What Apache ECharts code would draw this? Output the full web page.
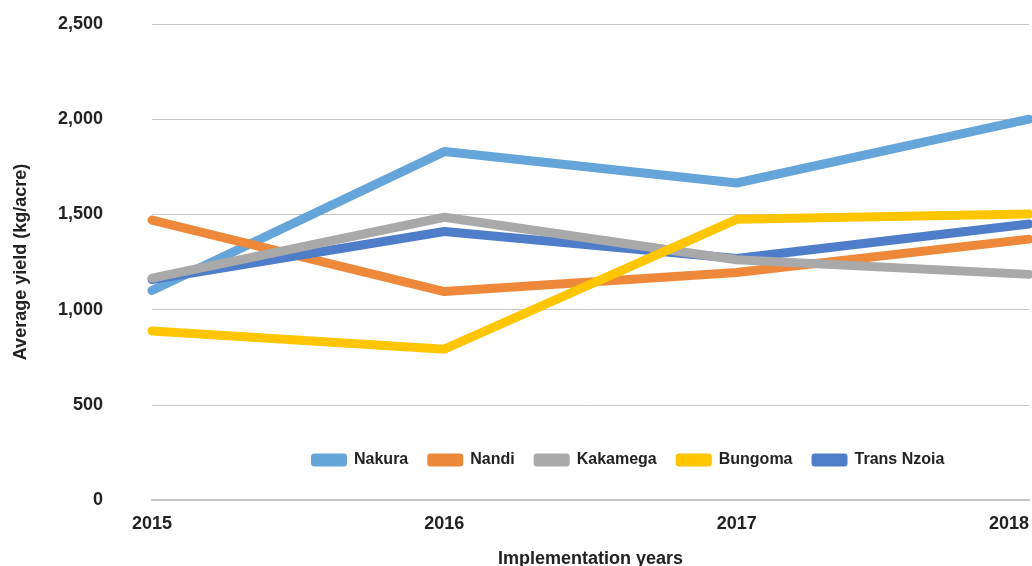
<!DOCTYPE html>
<html>
<head>
<meta charset="utf-8">
<script src="https://cdn.jsdelivr.net/npm/echarts@6/dist/echarts.min.js"></script>
<style>
  html, body { margin: 0; padding: 0; background: #fff; }
  #chart { width: 1032px; height: 566px; }
</style>
</head>
<body>
<div id="chart"></div>
<script>
var years = ['2015', '2016', '2017', '2018'];
var nakura = [1100, 1830, 1665, 2000];
var nandi = [1470, 1095, 1195, 1370];
var kakamega = [1165, 1485, 1262, 1185];
var bungoma = [888, 792, 1474, 1502];
var transNzoia = [1158, 1410, 1268, 1450];

var myChart = echarts.init(document.getElementById('chart'));

function line(name, data, color, z) {
    return {
        name: name,
        type: 'line',
        data: data,
        z: z,
        symbol: 'none',
        lineStyle: { width: 9, color: color, cap: 'round', join: 'round' },
        itemStyle: { color: color }
    };
}

var font = 'Liberation Sans, Arial, sans-serif';

option = {
    animation: false,
    textStyle: { fontFamily: font },
    grid: { left: 152, right: 3, top: 24, bottom: 66, outerBoundsMode: 'none', containLabel: false },
    legend: {
        top: 447,
        left: 306,
        itemWidth: 36,
        itemHeight: 13,
        itemGap: 19,
        icon: 'roundRect',
        textStyle: { fontSize: 16, fontWeight: 'bold', color: '#222', fontFamily: font, padding: [0, 0, 0, 2] },
        data: ['Nakura', 'Nandi', 'Kakamega', 'Bungoma', 'Trans Nzoia']
    },
    xAxis: {
        type: 'category',
        data: years,
        boundaryGap: false,
        name: 'Implementation years',
        nameLocation: 'middle',
        nameGap: 50,
        nameTextStyle: { fontSize: 18, fontWeight: 'bold', color: '#222' },
        axisLine: { lineStyle: { color: '#c6c6c6', width: 2 } },
        axisTick: { show: false },
        axisLabel: { fontSize: 18, fontWeight: 'bold', color: '#222', margin: 15, alignMinLabel: 'center', alignMaxLabel: 'right' }
    },
    yAxis: {
        type: 'value',
        min: 0,
        max: 2500,
        interval: 500,
        name: 'Average yield (kg/acre)',
        nameLocation: 'middle',
        nameGap: 122,
        nameTextStyle: { fontSize: 18, fontWeight: 'bold', color: '#222' },
        axisLine: { show: false },
        axisTick: { show: false },
        axisLabel: {
            fontSize: 18, fontWeight: 'bold', color: '#222', margin: 49,
            formatter: function (v) { return v.toLocaleString('en-US'); }
        },
        splitLine: { lineStyle: { color: '#c6c6c6', width: 1 } }
    },
    series: [
        line('Nakura', nakura, '#66a5d9', 2),
        line('Nandi', nandi, '#ee893b', 3),
        line('Kakamega', kakamega, '#a9a9a9', 5),
        line('Bungoma', bungoma, '#ffc600', 6),
        line('Trans Nzoia', transNzoia, '#4f7dca', 4)
    ]
};

myChart.setOption(option);
</script>
</body>
</html>
